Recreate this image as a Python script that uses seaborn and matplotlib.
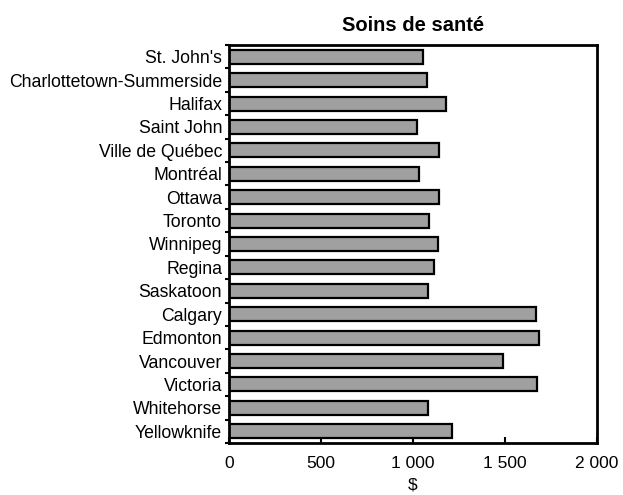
import matplotlib
matplotlib.use("Agg")
import matplotlib.pyplot as plt
import seaborn as sns
import pandas as pd
import numpy as np
from matplotlib.ticker import FixedLocator, FuncFormatter

cities = ["St. John's", "Charlottetown-Summerside", "Halifax", "Saint John",
          "Ville de Québec", "Montréal", "Ottawa", "Toronto", "Winnipeg",
          "Regina", "Saskatoon", "Calgary", "Edmonton", "Vancouver",
          "Victoria", "Whitehorse", "Yellowknife"]
values = [1056, 1074, 1177, 1020, 1141, 1031, 1141, 1089, 1138, 1114, 1082,
          1667, 1683, 1487, 1676, 1083, 1214]
xticks = [0, 500, 1000, 1500, 2000]

df = pd.DataFrame({"city": cities, "value": values})

sns.set_style("white")
plt.rcParams['font.family'] = ['Liberation Sans', 'DejaVu Sans']
plt.rcParams['text.color'] = 'black'
plt.rcParams['axes.labelcolor'] = 'black'
plt.rcParams['xtick.color'] = 'black'
plt.rcParams['ytick.color'] = 'black'

fig = plt.figure(figsize=(6.23, 4.95), dpi=100)
ax = fig.add_axes([229/623, 1-443/495, (597-229)/623, (443-45)/495])

sns.barplot(data=df, x="value", y="city", orient="h", color="#a0a0a0",
            saturation=1, edgecolor="black", linewidth=1.6, width=0.6, ax=ax)

ax.set_xlim(0, 2000)
ax.set_ylim(len(cities) - 0.5, -0.5)
ax.set_xticks(xticks)
ax.xaxis.set_major_formatter(FuncFormatter(lambda v, p: f"{int(v):,}".replace(",", " ")))
ax.tick_params(axis="x", bottom=True, direction="in", length=4, width=1.5,
               labelsize=12.5, pad=9, colors="black")
ax.tick_params(axis="y", which="major", left=True, length=0, labelsize=12.7, pad=5,
               colors="black")
ax.yaxis.set_minor_locator(FixedLocator(np.arange(-0.5, len(cities), 1.0)))
ax.tick_params(axis="y", which="minor", left=True, direction="out", length=3, width=1.5)

for s in ax.spines.values():
    s.set_visible(True)
    s.set_linewidth(2)
    s.set_color("black")

ax.set_ylabel("")
ax.set_xlabel("$", fontsize=12.5, labelpad=5, color="black")
ax.set_title("Soins de santé", fontsize=14.5, fontweight="bold", pad=10, color="black")

fig.savefig("out.png", dpi=100)
